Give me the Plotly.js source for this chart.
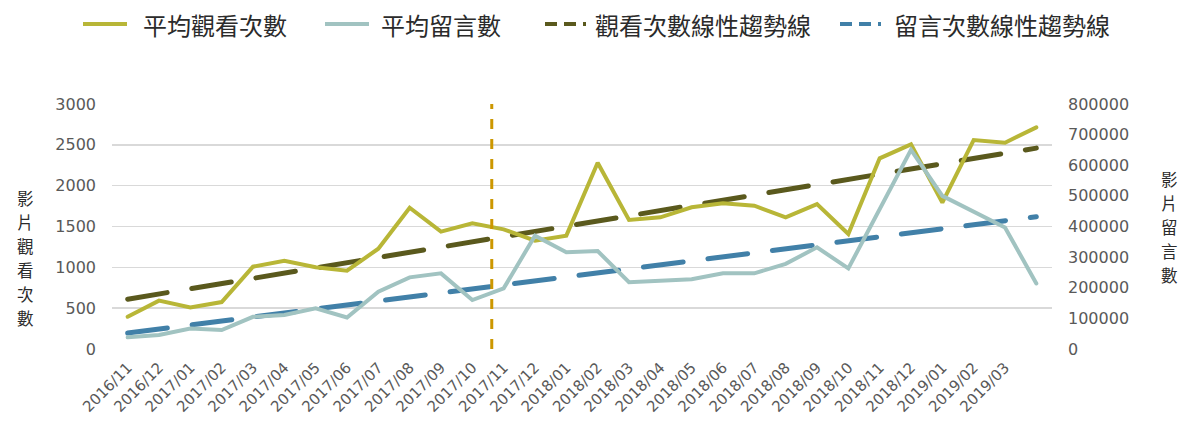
<!DOCTYPE html>
<html>
<head>
<meta charset="utf-8">
<script src="https://cdn.plot.ly/plotly-3.0.1.min.js"></script>
<style>
html, body { margin: 0; padding: 0; background: #ffffff; }
#chart { width: 1202px; height: 431px; }
.scatterlayer path.js-line { stroke-linecap: round; }
</style>
</head>
<body>
<div id="chart"></div>
<script>
// ---------------- data ----------------
const months = [
  "2016/11","2016/12","2017/01","2017/02","2017/03","2017/04","2017/05","2017/06",
  "2017/07","2017/08","2017/09","2017/10","2017/11","2017/12","2018/01","2018/02",
  "2018/03","2018/04","2018/05","2018/06","2018/07","2018/08","2018/09","2018/10",
  "2018/11","2018/12","2019/01","2019/02","2019/03","2019/04"
];
const tickLabels = [
  "2016/11","2016/12","2017/01","2017/02","2017/03","2017/04","2017/05","2017/06",
  "2017/07","2017/08","2017/09","2017/10","2017/11","2017/12","2018/01","2018/02",
  "2018/03","2018/04","2018/05","2018/06","2018/07","2018/08","2018/09","2018/10",
  "2018/11","2018/12","2019/01","2019/02","2019/03"
];
const avgViews = [
  395, 592, 510, 575, 1008, 1081, 1000, 959, 1228, 1730, 1437, 1539, 1465, 1326, 1388,
  2281, 1580, 1612, 1735, 1784, 1755, 1612, 1775, 1408, 2335, 2506, 1792, 2559, 2526, 2714
];
const avgComments = [
  38000, 46000, 67000, 62000, 105000, 111000, 133000, 103000, 187000, 234000, 247000, 160000,
  198000, 370000, 316000, 320000, 218000, 223000, 228000, 247000, 247000, 278000, 332000,
  263000, 459000, 650000, 500000, 448000, 397000, 214000
];
// linear trend lines: values at first and last month
const viewsTrendEnds = [610, 2460];
const commentsTrendEnds = [52000, 432000];
const trendMonths = [months[0], months[months.length - 1]];
// vertical divider position (category index)
const dividerPosition = 11.62;

const seriesNames = ["平均觀看次數", "平均留言數", "觀看次數線性趨勢線", "留言次數線性趨勢線"];
const leftTitle = "影片觀看次數";
const rightTitle = "影片留言數";

// ---------------- style ----------------
const C_VIEWS = "#b8b637";
const C_COMM = "#a1c3c1";
const C_VTREND = "#5a591d";
const C_CTREND = "#4180a8";
const C_DIV = "#cc9700";

const W = 1202, H = 431;
const M = { l: 112, r: 150, t: 104, b: 82 };
const PW = W - M.l - M.r, PH = H - M.t - M.b;
const px = v => (v - M.l) / PW;
const py = v => (H - M.b - v) / PH;

const cjk = '"Noto Sans CJK TC", "Noto Sans", sans-serif';
const latin = '"DejaVu Sans", sans-serif';

const traces = [
  { x: months, y: avgViews, type: "scatter", mode: "lines", name: seriesNames[0],
    line: { color: C_VIEWS, width: 4 }, yaxis: "y" },
  { x: months, y: avgComments, type: "scatter", mode: "lines", name: seriesNames[1],
    line: { color: C_COMM, width: 4 }, yaxis: "y2" },
  { x: trendMonths, y: viewsTrendEnds, type: "scatter", mode: "lines", name: seriesNames[2],
    line: { color: C_VTREND, width: 5, dash: "40px,25px" }, yaxis: "y" },
  { x: trendMonths, y: commentsTrendEnds, type: "scatter", mode: "lines", name: seriesNames[3],
    line: { color: C_CTREND, width: 5, dash: "40px,25px" }, yaxis: "y2" }
];
const ordered = [traces[2], traces[3], traces[1], traces[0]];

// manual legend
const legendItems = [
  { name: seriesNames[0], color: C_VIEWS, dash: "solid", x0: 83, x1: 127, tx: 141 },
  { name: seriesNames[1], color: C_COMM, dash: "solid", x0: 325, x1: 369, tx: 379 },
  { name: seriesNames[2], color: C_VTREND, dash: "12px,7px", x0: 545, x1: 586, tx: 593 },
  { name: seriesNames[3], color: C_CTREND, dash: "12px,7px", x0: 840, x1: 881, tx: 892 }
];
const legY = 24;

const shapes = [
  { type: "line", xref: "x", yref: "paper", x0: dividerPosition, x1: dividerPosition, y0: 0, y1: 1,
    line: { color: C_DIV, width: 3, dash: "10px,10px" }, layer: "above" }
];
const annotations = [];
legendItems.forEach(it => {
  shapes.push({ type: "line", xref: "paper", yref: "paper", x0: px(it.x0), x1: px(it.x1),
    y0: py(legY), y1: py(legY), line: { color: it.color, width: 4, dash: it.dash } });
  annotations.push({ xref: "paper", yref: "paper", x: px(it.tx), y: py(legY), xanchor: "left",
    yanchor: "middle", showarrow: false, text: it.name,
    font: { family: cjk, size: 24, color: "#2b2b2b" } });
});

// vertical (stacked) axis titles, one character per line
function stackedTitle(text, cx, cy, pitch) {
  const chars = text.split("");
  const top = cy - pitch * (chars.length - 1) / 2;
  chars.forEach((ch, i) => {
    annotations.push({ xref: "paper", yref: "paper", x: px(cx), y: py(top + i * pitch),
      xanchor: "center", yanchor: "middle", showarrow: false, text: ch, borderpad: 0,
      font: { family: cjk, size: 16.5, color: "#2b2b2b" } });
  });
}
stackedTitle(leftTitle, 25, 258, 24);
stackedTitle(rightTitle, 1169, 227, 24);

const layout = {
  width: W, height: H,
  margin: { l: M.l, r: M.r, t: M.t, b: M.b, pad: 0 },
  paper_bgcolor: "#ffffff", plot_bgcolor: "#ffffff",
  showlegend: false,
  xaxis: {
    type: "category", categoryorder: "array", categoryarray: months,
    range: [-0.5, months.length - 0.5],
    tickmode: "array", tickvals: tickLabels, ticktext: tickLabels,
    tickangle: -45, showgrid: false, zeroline: false, showline: false, ticks: "",
    ticklabelstandoff: 6,
    tickfont: { family: latin, size: 15, color: "#595959" }
  },
  yaxis: {
    range: [0, 3000], dtick: 500, tick0: 0, showgrid: true, gridcolor: "#d9d9d9", gridwidth: 1.5,
    zeroline: false, showline: false, ticks: "", ticklabelstandoff: 15,
    tickfont: { family: latin, size: 16, color: "#595959" }
  },
  yaxis2: {
    range: [0, 800000], dtick: 100000, tick0: 0, overlaying: "y", side: "right", showgrid: false,
    zeroline: false, showline: false, ticks: "", tickformat: "d", ticklabelstandoff: 15,
    tickfont: { family: latin, size: 16, color: "#595959" }
  },
  shapes: shapes,
  annotations: annotations
};

Plotly.newPlot("chart", ordered, layout, { staticPlot: true, displayModeBar: false });
</script>
</body>
</html>
